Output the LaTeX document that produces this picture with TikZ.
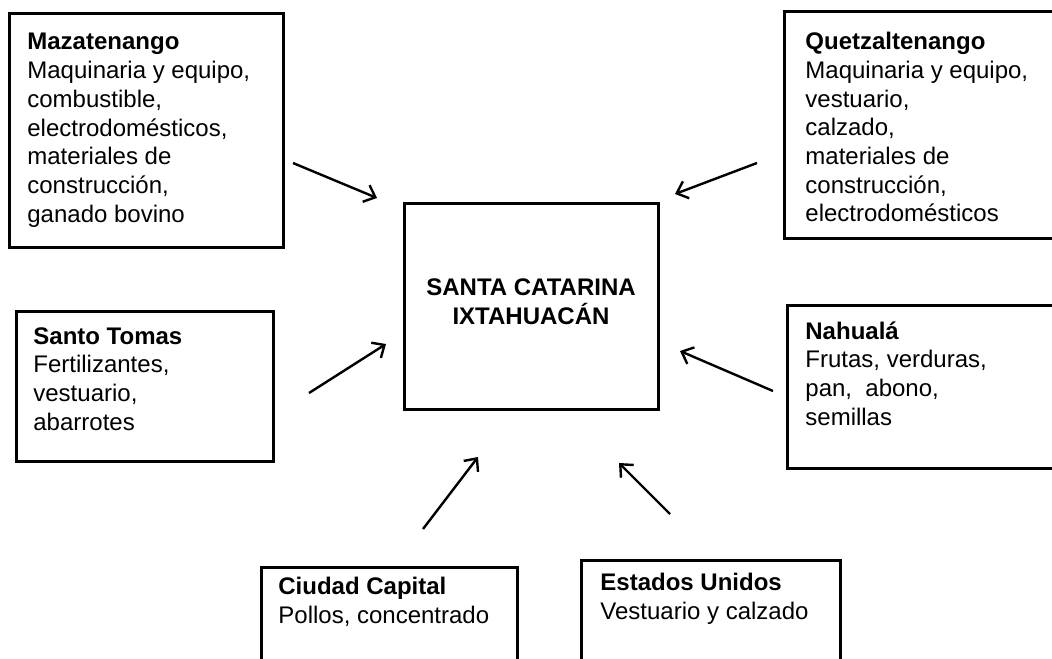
\documentclass[tikz,border=0pt]{standalone}
\usepackage{fontspec}
\setmainfont{Liberation Sans}
\usetikzlibrary{fit,arrows.meta}

\begin{document}
\begin{tikzpicture}[x=0.5pt, y=-0.5pt,
  box/.style={draw=black, line width=1.5pt, inner sep=0pt},
  txt/.style={anchor=north west, align=left, inner sep=0pt, font={\fontsize{12}{14.35}\selectfont}},
  arr/.style={line width=1.2pt, -{Straight Barb[length=5pt, width=9pt, line width=1.2pt]}}]

\useasboundingbox (0,0) rectangle (1052,658);

% boxes
\node[box, fit={(9,14) (283,247)}] (maz) {};
\node[box, fit={(784,12) (1062,238)}] (que) {};
\node[box, fit={(16,311) (273,461)}] (sto) {};
\node[box, fit={(787,305) (1062,468)}] (nah) {};
\node[box, fit={(261,567) (517,680)}] (cap) {};
\node[box, fit={(581,560) (840,680)}] (usa) {};
\node[box, fit={(404,203) (658,409)}] (sci) {};

% texts
\node[txt] (maz-t) at (27,33) {\textbf{Mazatenango}\\Maquinaria y equipo,\\combustible,\\electrodomésticos,\\materiales de\\construcción,\\ganado bovino};
\node[txt] (que-t) at (805,32) {\textbf{Quetzaltenango}\\Maquinaria y equipo,\\vestuario,\\calzado,\\materiales de\\construcción,\\electrodomésticos};
\node[txt] (sto-t) at (33,327) {\textbf{Santo Tomas}\\Fertilizantes,\\vestuario,\\abarrotes};
\node[txt] (nah-t) at (805,321) {\textbf{Nahualá}\\Frutas, verduras,\\pan,\ \ abono,\\semillas};
\node[txt] (cap-t) at (278,577) {\textbf{Ciudad Capital}\\Pollos, concentrado};
\node[txt] (usa-t) at (600,573) {\textbf{Estados Unidos}\\Vestuario y calzado};
\node[align=center, inner sep=0pt, font={\bfseries\fontsize{12}{14.35}\selectfont}] (sci-t) at (531,302) {SANTA CATARINA\\IXTAHUACÁN};

% arrows
\coordinate (maz-a) at (293,163);
\coordinate (maz-b) at (377,198);
\coordinate (que-a) at (757,163);
\coordinate (que-b) at (675,194);
\coordinate (sto-a) at (309,393);
\coordinate (sto-b) at (386,344);
\coordinate (nah-a) at (773,391);
\coordinate (nah-b) at (680,351);
\coordinate (cap-a) at (423,529);
\coordinate (cap-b) at (478,457);
\coordinate (usa-a) at (670,514);
\coordinate (usa-b) at (619,463);

\draw[arr] (maz-a) -- (maz-b);
\draw[arr] (que-a) -- (que-b);
\draw[arr] (sto-a) -- (sto-b);
\draw[arr] (nah-a) -- (nah-b);
\draw[arr] (cap-a) -- (cap-b);
\draw[arr] (usa-a) -- (usa-b);

\end{tikzpicture}
\end{document}
